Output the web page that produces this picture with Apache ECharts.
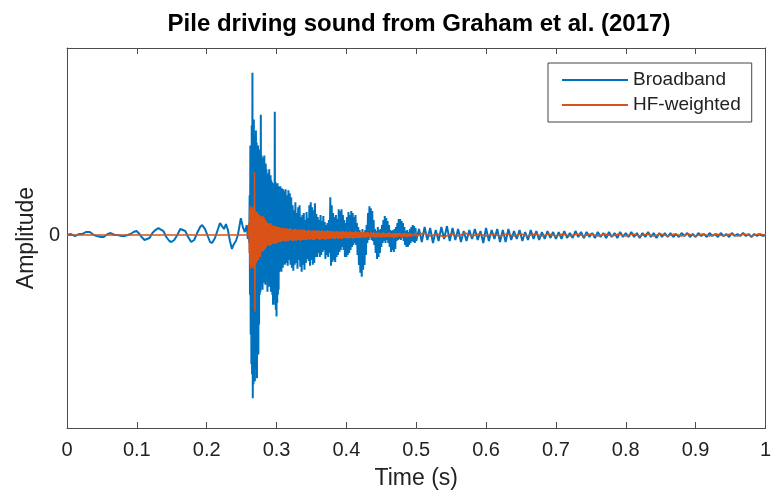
<!DOCTYPE html>
<html>
<head>
<meta charset="utf-8">
<script src="https://cdn.jsdelivr.net/npm/echarts@6/dist/echarts.min.js"></script>
<style>html,body{margin:0;padding:0;background:#fff}#c{width:774px;height:495px}</style>
</head>
<body>
<div id="c"></div>
<script>
// ---- Data (amplitude in arbitrary units, 0 = silence) ----
const seriesNames = ['Broadband', 'HF-weighted'];
const xTicks = [0, 0.1, 0.2, 0.3, 0.4, 0.5, 0.6, 0.7, 0.8, 0.9, 1];

// Broadband: low-level precursor (time, amplitude)
const broadPreT = [0,0.0057,0.0114,0.0171,0.0213,0.0270,0.0327,0.0384,0.0427,0.0484,0.0526,0.0583,0.0626,0.0683,0.0725,0.0782,0.0825,0.0868,0.0910,0.0953,0.0996,0.1038,0.1067,0.1110,0.1138,0.1181,0.1223,0.1266,0.1309,0.1337,0.1380,0.1422,0.1465,0.1494,0.1536,0.1579,0.1622,0.1650,0.1693,0.1735,0.1778,0.1821,0.1863,0.1906,0.1935,0.1977,0.2020,0.2048,0.2077,0.2119,0.2162,0.2191,0.2219,0.2248,0.2276,0.2304,0.2333,0.2361,0.2390,0.2418,0.2447,0.2489,0.2518,0.2546,0.2575,0.2589];
const broadPreA = [0,1,-1,1,1,3,3,0,-1,-2,-2,1,2,0,0,-1,-1,0,1,3,4,1,-2,-5,-6,-3,2,5,7,7,4,-2,-6,-7,-5,0,6,7,4,-2,-7,-5,2,8,10,6,-2,-7,-8,-3,6,12,14,6,11,5,-6,-14,-9,-6,0,17,8,3,10,-4];

// Broadband: impact burst, samples every 0.5 ms from 0.260 s
const burstStart = 0.26, burstStep = 0.0005;
const broadBurst = [0,5,-8, 40,-60,90,-100,85,-130, 110,-140,163,-164, 95,-150,116,-120,100,-147,80,-130,
  105,-135,93,-144,85,-100,90,-120,70,-90, 86,-60,75,-57,121,-50,
  80,-45,70,-55,78,-40,65,-48,80,-35,60,-50,72,-42,
  66,-40,55,-57,62,-45,58,-37,66,-52,50,-40,60,-57,55,-45,
  53,-60,48,-70,52,-57,45,-65, 124,-70, 53,-75,50,-82,45,-68,52,-60,48,-55,
  49,-37,44,-35,49,-30,42,-37,47,-28,40,-33,46,-30];

// Broadband: decay, samples every 1 ms from 0.311 s
const decayStart = 0.311, decayStep = 0.001;
const broadDecay = [44,-30,46,-28,40,-31,45,-25,42,-30,38,
  -33,30,-36,25,-30,33,-28,22,-34,28,-25,30,-32,
  18,-37,20,-30,22,-35,15,-28,23,-24,17,
  -26,30,-31,33,-25,28,-30,25,-28,32,-22,
  21,-22,18,-18,15,-22,20,-20,14,-17,19,-15,
  13,-24,10,-20,12,-22,15,-18,38,
  -31,30,-27,22,-25,18,-27,20,-22,16,-20,
  26,-17,24,-15,26,-12,20,-15,15,-22,12,
  -22,18,-20,23,-18,20,-15,24,-12,22,-10,18,
  -8,20,-10,12,-20,8,-30,5,-38,3,-42,6,
  -35,2,-30,5,-20,10,-8,
  22,-5,29,-3,27,-5,24,-6,15,
  -10,6,-18,4,-24,8,-22,5,-18,6,
  -12,10,-8,15,-6,19,-8,17,-5,
  14,-8,10,-12,5,-17,4,-15,5,
  -17,6,-14,8,-6,12,-5,16,-4,
  16,-5,14,-3,12,-6,8,-10,4,
  -12,5,-12,3,-10,6,-8,8,-6,
  10,-7,9,-8,7,-6];

// Broadband: tail, samples every 4 ms from 0.504 s
const tailStart = 0.504, tailStep = 0.004;
const broadTail = [6,-7,8,-5,7,-8,5,-6,8,-4, 9,-6,7,-5,6,-7,4,-6,5,-4, 6,-5,4,-8,7,-6,5,-4,6,-7,
  5,-7,6,-5,4,-4,5,-6,3,-5, 5,-4,4,-5,3,-4,4,-3,3,-4, 3,-4,4,-3,2,-3,4,-2,3,-3,
  3,-2,2,-3,3,-2,2,-3,3,-2, 2,-3,3,-2,2,-2,3,-2,2,-3, 2,-2,3,-2,2,-3,2,-2,2,-2,
  2,-2,1,-2,2,-1,2,-2,1,-2, 2,-1,1,-2,2,-1,1,-2,2,-1, 1,-2,2,-1,1,-1,2,-1,1,-2, 1,-1,1,-1,0];

// HF-weighted
const hfPreT = [0, 0.2595];
const hfPreA = [0, 0];
const hfBurst = [0,12,-18,25,-30,29,-34,27,-32,28,-30,26,-33,
  27,-28,30,-34,63,-77,25,-30,
  24,-28,22,-26,23,-24,21,-25,20,-22,
  20,-20,18,-22,19,-17,
  18,-17,16,-15,19,-16,15,-14,17,-15,14,-13,15,-12,
  13,-11,12,-10,11,-10,12,-9,10,-11,11,-9,12,-10,10,-9,
  9,-9,10,-8,9,-9,8,-8,9,-8,8,-9,9,-7,8,-8,7,-8,8,-7,
  7,-7,8,-6,7,-7,6,-7,7,-6,6,-6,7,-6];
const hfDecay = [7,-6,6,-7,7,-6,6,-6,7,-5,6,-6,5,-6,6,-5,6,-6,5,-5,6,-5,5,-6,6,-5,5,-5,6,-5,
  5,-5,4,-5,5,-4,5,-5,4,-4,5,-5,4,-5,5,-4,4,-4,5,-4,4,-5,4,-4,5,-4,4,-4,4,-5,4,-4,5,-4,4,-4,4,-4,4,-3,
  4,-4,3,-4,4,-3,4,-4,3,-3,4,-4,3,-4,4,-3,3,-3,4,-3,3,-4,3,-3,4,-3,3,-3,3,-4,3,-3,4,-3,3,-3,3,-3,3,-3,3,-3,3,-2,3,-3,2,-3,3,-2,
  3,-2,2,-3,3,-2,2,-2,3,-2,2,-3,2,-2,3,-2,2,-2,2,-3,2,-2,3,-2,2,-2,2,-2,2,-2,3,-2,2,-2,2,-2,2,-3,2,-2,2,-2,2,-2,2,-1,2,-2,1,-2,2,-2,2,-1,2,-2,1,-2,2,-1,2,-2,1,-1,2,-1,1,-2,2,-1];
const hfTailStart = 0.51, hfTailStep = 0.01;
const hfTail = [2,-1,1,-2,1,-1,2,-1,1,-1,1,-1,1,-1,1,-1,1,-1,1,-1,1,-1,1,-1,1,-1,1,-1,1,-1,1,-1,1,-1,1,-1,1,-1,1,-1,1,-1,1,-1,1,-1,1,-1,1,0];

// ---- Build [time, amplitude] pairs ----
function pairs(ts, as) { return ts.map((t, i) => [t, as[i]]); }
function sampled(t0, dt, as) { return as.map((a, i) => [+(t0 + i * dt).toFixed(5), a]); }
const broadData = [].concat(
  pairs(broadPreT, broadPreA),
  sampled(burstStart, burstStep, broadBurst),
  sampled(decayStart, decayStep, broadDecay),
  sampled(tailStart, tailStep, broadTail));
const hfData = [].concat(
  pairs(hfPreT, hfPreA),
  sampled(burstStart, burstStep, hfBurst),
  sampled(decayStart, decayStep, hfDecay),
  sampled(hfTailStart, hfTailStep, hfTail));

const FONT = 'Liberation Sans, Arial, Helvetica, sans-serif';
const AX = '#4d4d4d';
const YMIN = -194, YMAX = 188;

const chart = echarts.init(document.getElementById('c'), null, {renderer: 'canvas'});
chart.setOption({
  animation: false,
  backgroundColor: '#fff',
  title: {
    text: 'Pile driving sound from Graham et al. (2017)',
    left: 414, top: 7, textAlign: 'center',
    textStyle: {fontFamily: FONT, fontSize: 24, fontWeight: 'bold', color: '#000'}
  },
  legend: {
    orient: 'vertical', left: 548, top: 63,
    icon: 'rect', itemWidth: 66, itemHeight: 2, itemGap: 5,
    padding: [7, 11, 7, 14],
    borderColor: '#444', borderWidth: 1, backgroundColor: '#fff',
    textStyle: {fontFamily: FONT, fontSize: 19, color: '#222', lineHeight: 20},
    data: seriesNames
  },
  grid: {left: 67, right: 4, top: 48, bottom: 65, containLabel: false},
  xAxis: [{
    type: 'value', min: xTicks[0], max: xTicks[xTicks.length - 1], interval: 0.1,
    position: 'bottom',
    name: 'Time (s)', nameLocation: 'middle', nameGap: 39,
    nameTextStyle: {fontFamily: FONT, fontSize: 23, color: '#222'},
    axisLine: {onZero: false, lineStyle: {color: AX, width: 1}},
    axisTick: {inside: true, length: 6, lineStyle: {color: AX}},
    axisLabel: {fontFamily: FONT, fontSize: 20, color: '#222', margin: 12},
    splitLine: {show: false}
  }, {
    type: 'value', min: 0, max: 1, interval: 0.1, position: 'top',
    axisLine: {onZero: false, lineStyle: {color: AX, width: 1}},
    axisTick: {inside: true, length: 6, lineStyle: {color: AX}},
    axisLabel: {show: false}, splitLine: {show: false}
  }],
  yAxis: [{
    type: 'value', min: YMIN, max: YMAX, interval: 194, position: 'left',
    name: 'Amplitude', nameLocation: 'middle', nameGap: 18,
    nameTextStyle: {fontFamily: FONT, fontSize: 23, color: '#222'},
    axisLine: {onZero: false, lineStyle: {color: AX, width: 1}},
    axisTick: {inside: true, length: 6, lineStyle: {color: AX}},
    axisLabel: {fontFamily: FONT, fontSize: 20, color: '#222', margin: 7,
      formatter: v => (v === 0 ? '0' : '')},
    splitLine: {show: false}
  }, {
    type: 'value', min: YMIN, max: YMAX, interval: 194, position: 'right',
    axisLine: {onZero: false, lineStyle: {color: AX, width: 1}},
    axisTick: {inside: true, length: 6, lineStyle: {color: AX}},
    axisLabel: {show: false}, splitLine: {show: false}
  }],
  series: [{
    name: seriesNames[0], type: 'line', data: broadData,
    xAxisIndex: 0, yAxisIndex: 0,
    showSymbol: false, symbol: 'none', sampling: null,
    lineStyle: {color: '#0072BD', width: 2},
    itemStyle: {color: '#0072BD'}
  }, {
    name: seriesNames[1], type: 'line', data: hfData,
    xAxisIndex: 0, yAxisIndex: 0,
    showSymbol: false, symbol: 'none', sampling: null,
    lineStyle: {color: '#D95319', width: 1.5},
    itemStyle: {color: '#D95319'}
  }]
});
</script>
</body>
</html>
